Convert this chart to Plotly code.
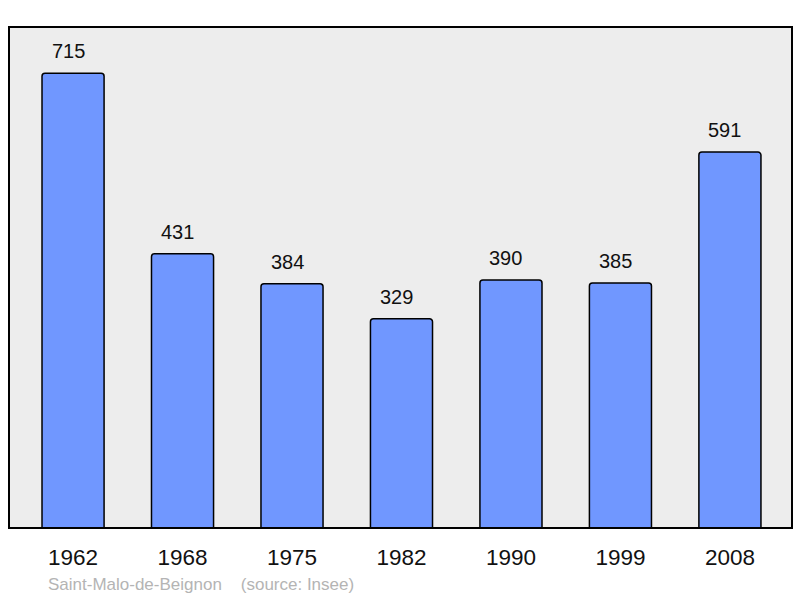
import plotly.graph_objects as go

years = ["1962", "1968", "1975", "1982", "1990", "1999", "2008"]
population = [715, 431, 384, 329, 390, 385, 591]

fig = go.Figure()

fig.add_trace(go.Bar(
    x=list(range(len(years))),
    y=population,
    width=0.567,
    marker=dict(color="#7097ff", line=dict(color="#000000", width=1.5), cornerradius=3),
    hovertext=years,
    hoverinfo="text+y",
))

# value labels above each bar (sit a little left of centre, as in the original)
for i, val in enumerate(population):
    fig.add_annotation(
        x=i, y=val, text=str(val), showarrow=False,
        yanchor="middle", yshift=22, xshift=-5,
        font=dict(family="Liberation Sans, Arial, sans-serif", size=20, color="#111111"),
    )

fig.add_annotation(
    xref="paper", yref="paper", x=0.047, y=-0.112,
    xanchor="left", yanchor="middle", showarrow=False,
    text="Saint-Malo-de-Beignon    (source: Insee)",
    font=dict(family="Liberation Sans, Arial, sans-serif", size=17, color="#b4b4b4"),
)

# frame round the plot area
fig.add_shape(
    type="rect", xref="paper", yref="paper", x0=0, y0=0, x1=1, y1=1,
    line=dict(color="#000000", width=2), layer="above",
)

fig.update_layout(
    width=800, height=598,
    margin=dict(l=9, r=8, t=27, b=70),
    paper_bgcolor="#ffffff",
    plot_bgcolor="#ededed",
    showlegend=False,
    font=dict(family="Liberation Sans, Arial, sans-serif"),
    xaxis=dict(
        range=[-0.585, 6.567], showgrid=False, zeroline=False, showline=False,
        ticks="", tickmode="array", tickvals=list(range(len(years))), ticktext=years,
        tickfont=dict(size=22.5, color="#111111"), ticklabelstandoff=13,
    ),
    yaxis=dict(
        range=[0, 787.6], showgrid=False, zeroline=False, showticklabels=False,
        showline=False, ticks="",
    ),
)

fig.write_html(
    "out.html",
    config={"displayModeBar": False},
    post_script="document.body.style.margin='0';document.body.style.overflow='hidden';",
)
